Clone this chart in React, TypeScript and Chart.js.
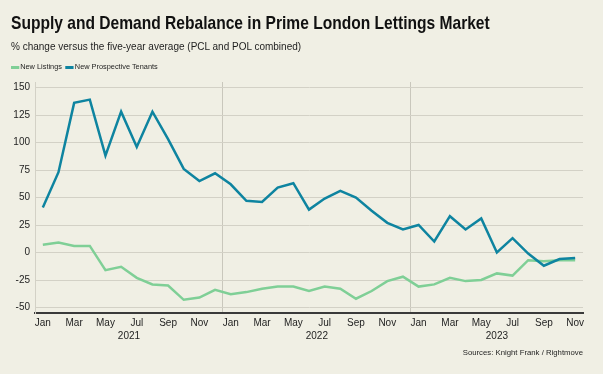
import React, { useEffect, useRef } from "react";
import { Chart, registerables } from "chart.js";

Chart.register(...registerables);

const months = ["Jan","Feb","Mar","Apr","May","Jun","Jul","Aug","Sep","Oct","Nov","Dec"];
const years = ["2021", "2022", "2023"];
const monthCounts = [12, 12, 11];

const categories: string[] = [];
years.forEach((y, yi) => {
  for (let m = 0; m < monthCounts[yi]; m++) categories.push(months[m] + " " + y);
});

const newListings = [
  7, 9, 6, 6, -16, -13, -23, -29, -30, -43, -41, -34,
  -38, -36, -33, -31, -31, -35, -31, -33, -42, -35, -26, -22,
  -31, -29, -23, -26, -25, -19, -21, -7, -8, -7, -7,
];
const newProspectiveTenants = [
  41, 73, 136, 139, 88, 128, 96, 128, 103, 76, 65, 72,
  62, 47, 46, 59, 63, 39, 49, 56, 50, 38, 27, 21,
  25, 10, 33, 21, 31, 0, 13, -1, -12, -6, -5,
];
const yTicks = [-50, -25, 0, 25, 50, 75, 100, 125, 150];

const BG = "#f0efe4";
const GRID = "#d3d1c6";
const BLUE = "#0e84a0";
const GREEN = "#7fcf96";
const TEXT = "#1e1e1e";
const FONT = "'Liberation Sans', Arial, sans-serif";

const yearLabelPlugin = {
  id: "yearLabels",
  afterDraw(chart: any) {
    const xs = chart.scales.x;
    const ctx = chart.ctx;
    ctx.save();
    ctx.font = "10px " + FONT;
    ctx.fillStyle = TEXT;
    ctx.textAlign = "center";
    ctx.textBaseline = "middle";
    let start = 0;
    years.forEach((y, yi) => {
      const end = start + monthCounts[yi] - 1;
      const x = (xs.getPixelForValue(start) + xs.getPixelForValue(end)) / 2;
      ctx.fillText(y, x, chart.chartArea.bottom + 23);
      start = end + 1;
    });
    ctx.restore();
  },
};

export default function App() {
  const ref = useRef<HTMLCanvasElement>(null);
  useEffect(() => {
    document.body.style.margin = "0";
    document.body.style.background = BG;
    const chart = new Chart(ref.current!, {
      type: "line",
      data: {
        labels: categories,
        datasets: [
          {
            label: "New Prospective Tenants",
            data: newProspectiveTenants,
            borderColor: BLUE,
            backgroundColor: BLUE,
            borderWidth: 2.5,
            pointRadius: 0,
            tension: 0,
          },
          {
            label: "New Listings",
            data: newListings,
            borderColor: GREEN,
            backgroundColor: GREEN,
            borderWidth: 2.5,
            pointRadius: 0,
            tension: 0,
          },
        ],
      },
      options: {
        animation: false,
        responsive: false,
        devicePixelRatio: 1,
        layout: { padding: { top: 82, right: 20, left: 0, bottom: 21 } },
        plugins: { legend: { display: false }, title: { display: false }, tooltip: { enabled: false } },
        scales: {
          x: {
            type: "category",
            offset: true,
            afterFit: (s: any) => { s.height = 40; },
            grid: {
              offset: true,
              drawTicks: false,
              color: (c: any) => (c.index === 12 || c.index === 24 ? "#c9c7bc" : "rgba(0,0,0,0)"),
              lineWidth: 1,
            },
            border: { display: true, color: "#3a3a3a", width: 2 },
            ticks: {
              autoSkip: false,
              maxRotation: 0,
              padding: 4,
              color: TEXT,
              font: { family: FONT, size: 10 },
              callback: (v: any, i: number) => (i % 2 === 0 ? categories[i].split(" ")[0] : ""),
            },
          },
          y: {
            min: -55,
            max: 155,
            afterFit: (s: any) => { s.width = 35; },
            afterBuildTicks: (s: any) => { s.ticks = yTicks.map((v) => ({ value: v })); },
            grid: { color: GRID, drawTicks: false, lineWidth: 1 },
            border: { display: true, color: GRID, width: 1 },
            ticks: {
              padding: 5,
              color: TEXT,
              font: { family: FONT, size: 10 },
            },
          },
        },
      },
      plugins: [yearLabelPlugin],
    });
    return () => chart.destroy();
  }, []);

  const swatch = (color: string) => (
    <span style={{ display: "inline-block", width: 9, height: 3, background: color, marginRight: 1, verticalAlign: "middle" }} />
  );

  return (
    <div style={{ position: "fixed", left: 0, top: 0, width: 603, height: 374, background: BG, fontFamily: FONT, overflow: "hidden" }}>
      <canvas ref={ref} width={603} height={374} style={{ position: "absolute", left: 0, top: 0, width: 603, height: 374 }} />
      <div style={{ position: "absolute", left: 11, top: 12, fontSize: 19, fontWeight: "bold", color: "#111", whiteSpace: "nowrap", lineHeight: "22px", transform: "scaleX(0.82)", transformOrigin: "left center" }}>
        Supply and Demand Rebalance in Prime London Lettings Market
      </div>
      <div style={{ position: "absolute", left: 11, top: 39, fontSize: 11.5, color: TEXT, whiteSpace: "nowrap", lineHeight: "14px", transform: "scaleX(0.87)", transformOrigin: "left center" }}>
        % change versus the five-year average (PCL and POL combined)
      </div>
      <div style={{ position: "absolute", left: 11, top: 62, fontSize: 8, color: TEXT, whiteSpace: "nowrap", lineHeight: "10px", display: "flex", alignItems: "center", transform: "scaleX(0.92)", transformOrigin: "left center" }}>
        {swatch(GREEN)}<span style={{ marginRight: 4 }}>New Listings</span>
        {swatch(BLUE)}<span>New Prospective Tenants</span>
      </div>
      <div style={{ position: "absolute", right: 20, top: 348, fontSize: 8, color: TEXT, whiteSpace: "nowrap", lineHeight: "10px", transform: "scaleX(0.97)", transformOrigin: "right center" }}>
        Sources: Knight Frank / Rightmove
      </div>
    </div>
  );
}
